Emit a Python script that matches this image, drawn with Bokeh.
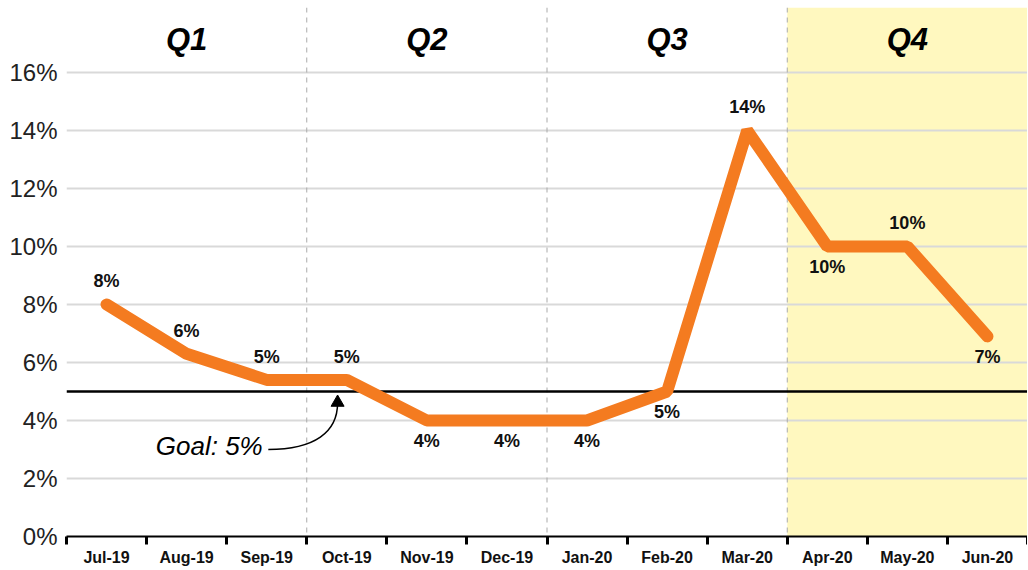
import numpy as np
from bokeh.plotting import figure
from bokeh.models import (Range1d, FixedTicker, Span, BoxAnnotation, ColumnDataSource,
                          Label, LabelSet)
from bokeh.core.properties import value
from bokeh.embed import file_html
from bokeh.resources import INLINE

months = ["Jul-19", "Aug-19", "Sep-19", "Oct-19", "Nov-19", "Dec-19",
          "Jan-20", "Feb-20", "Mar-20", "Apr-20", "May-20", "Jun-20"]
rates = [8.0, 6.3, 5.4, 5.4, 4.0, 4.0, 4.0, 5.0, 14.0, 10.0, 10.0, 6.9]
rate_labels = ["8%", "6%", "5%", "5%", "4%", "4%", "4%", "5%", "14%", "10%", "10%", "7%"]
label_pos = ["above", "above", "above", "above", "below", "below",
             "below", "below", "above", "below", "above", "below"]
quarters = ["Q1", "Q2", "Q3", "Q4"]
goal = 5.0
y_ticks = [0, 2, 4, 6, 8, 10, 12, 14, 16]

n = len(months)
xs = np.arange(n) + 0.5

p = figure(width=1027, height=568, output_backend="svg", toolbar_location=None,
           x_range=Range1d(0, n), y_range=Range1d(0, 18.24),
           min_border_left=66, min_border_right=0, min_border_top=7, min_border_bottom=32)
p.outline_line_color = None
p.background_fill_color = "white"
p.border_fill_color = "white"

# Q4 shading
shade = BoxAnnotation(left=9, right=12, fill_color="#FFF8BF", fill_alpha=1.0,
                      line_color=None, level="image")
p.add_layout(shade)

# grid
p.xgrid.grid_line_color = None
p.ygrid.grid_line_color = "#D9D9D9"
p.ygrid.grid_line_width = 2

# quarter dividers
for b in [3, 6, 9]:
    p.add_layout(Span(location=b, dimension="height", line_color="#AAAAAA",
                      line_width=1, line_dash="5 5", level="underlay"))

# goal line
p.add_layout(Span(location=goal, dimension="width", line_color="black",
                  line_width=2.5, level="underlay"))

# main line
p.line(xs, rates, line_color="#F47B20", line_width=12, line_cap="round", line_join="bevel")

# data labels
above_idx = [i for i in range(n) if label_pos[i] == "above"]
below_idx = [i for i in range(n) if label_pos[i] == "below"]
for idx, off in [(above_idx, -23), (below_idx, 21)]:
    src = ColumnDataSource(dict(x=[xs[i] for i in idx], y=[rates[i] for i in idx],
                                t=[rate_labels[i] for i in idx]))
    p.add_layout(LabelSet(x="x", y="y", text="t", source=src, y_offset=-off,
                          text_align="center", text_baseline="middle",
                          text_font=value("Liberation Sans"), text_font_style="bold",
                          text_font_size="18px", text_color="#111111"))

# quarter labels
for qi, q in enumerate(quarters):
    p.add_layout(Label(x=qi * 3 + 1.5, y=17.15, text=q, text_align="center",
                       text_baseline="middle", text_font="Liberation Sans",
                       text_font_style="bold italic", text_font_size="31px",
                       text_color="black"))

# goal annotation
p.add_layout(Label(x=2.45, y=3.12, text="Goal: " + str(int(goal)) + "%", text_align="right",
                   text_baseline="middle", text_font="Liberation Sans",
                   text_font_style="italic", text_font_size="26px", text_color="black"))
p.bezier(x0=[2.52], y0=[3.0], x1=[3.385], y1=[4.6], cx0=[3.1], cy0=[3.0],
         cx1=[3.385], cy1=[3.6], line_color="black", line_width=1.5)
p.scatter(x=[3.385], y=[4.62], marker="triangle", size=13, fill_color="black",
          line_color="black")

# y axis
p.yaxis.ticker = FixedTicker(ticks=y_ticks)
p.yaxis.major_label_overrides = {t: f"{t}%" for t in y_ticks}
p.yaxis.axis_line_color = None
p.yaxis.major_tick_line_color = None
p.yaxis.minor_tick_line_color = None
p.yaxis.major_label_text_font = "Liberation Sans"
p.yaxis.major_label_text_font_size = "24px"
p.yaxis.major_label_text_color = "#222222"
p.yaxis.major_label_standoff = 3

# x axis
p.xaxis.ticker = FixedTicker(ticks=list(xs), minor_ticks=list(range(n + 1)))
p.xaxis.major_label_overrides = {float(x): m for x, m in zip(xs, months)}
p.xaxis.axis_line_color = "black"
p.xaxis.axis_line_width = 2
p.xaxis.major_tick_line_color = None
p.xaxis.minor_tick_line_color = "black"
p.xaxis.minor_tick_line_width = 3
p.xaxis.minor_tick_out = 8
p.xaxis.minor_tick_in = 0
p.xaxis.major_label_text_font = "Liberation Sans"
p.xaxis.major_label_text_font_style = "bold"
p.xaxis.major_label_text_font_size = "16px"
p.xaxis.major_label_text_color = "#111111"
p.xaxis.major_label_standoff = 4

open("out.html", "w").write(file_html(p, INLINE))
